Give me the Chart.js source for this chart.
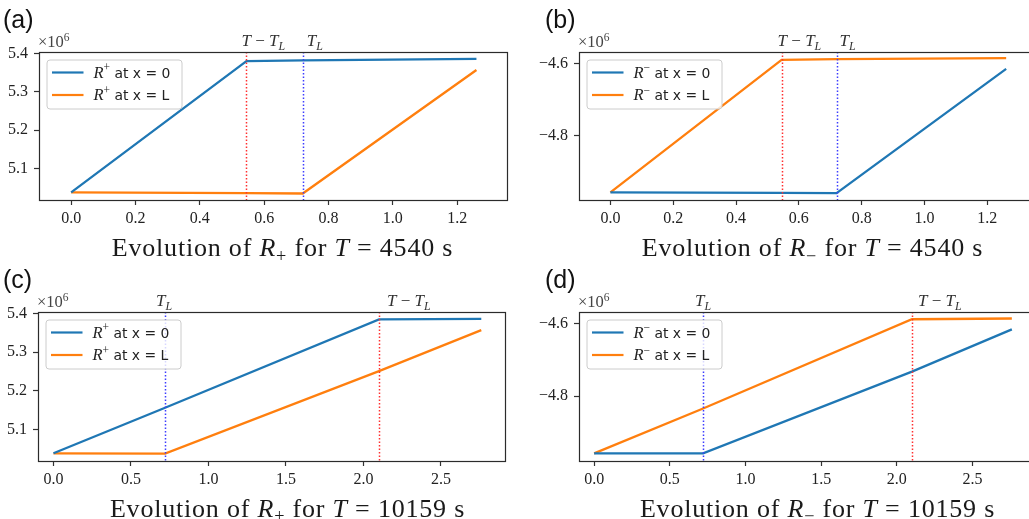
<!DOCTYPE html>
<html>
<head>
<meta charset="utf-8">
<script src="https://cdn.jsdelivr.net/npm/chart.js@4.4.1/dist/chart.umd.min.js"></script>
<style>
	html, body { margin: 0; padding: 0; background: #fff; overflow: hidden; width: 1029px; height: 519px; position: relative; }
	canvas { position: absolute; }
</style>
</head>
<body>
<canvas id="pa" width="520" height="262" style="left:0px;top:0px"></canvas>
<canvas id="pb" width="520" height="262" style="left:520px;top:0px"></canvas>
<canvas id="pc" width="520" height="257" style="left:0px;top:262px"></canvas>
<canvas id="pd" width="520" height="257" style="left:520px;top:262px"></canvas>
<script>
// time (scaled units) of the breakpoints of each run
var timesShort = [0, 0.545, 0.72, 1.26];
var timesLong = [0, 0.72, 2.10, 2.76];

// values are in units of 1e6
var rPlusShort0 = [5.038, 5.380, 5.382, 5.386];
var rPlusShortL = [5.038, 5.036, 5.035, 5.357];
var rMinusShort0 = [-4.958, -4.959, -4.960, -4.614];
var rMinusShortL = [-4.958, -4.589, -4.587, -4.584];
var rPlusLong0 = [5.038, 5.156, 5.385, 5.386];
var rPlusLongL = [5.038, 5.037, 5.251, 5.357];
var rMinusLong0 = [-4.958, -4.958, -4.732, -4.615];
var rMinusLongL = [-4.958, -4.834, -4.587, -4.585];

// vertical markers: T - T_L and T_L
var markersShort = [0.545, 0.72];
var markersLong = [2.10, 0.72];

var xTicksShort = [0, 0.2, 0.4, 0.6, 0.8, 1.0, 1.2];
var xTicksLong = [0, 0.5, 1.0, 1.5, 2.0, 2.5];
var yTicksPlus = [5.1, 5.2, 5.3, 5.4];
var yTicksMinus = [-4.8, -4.6];

var periods = [4540, 10159];
var seriesLabels = ["at x = 0", "at x = L"];

var BLUE = "#1f77b4", ORANGE = "#ff7f0e";
var RED_MARK = "#ff3030", BLUE_MARK = "#3d3dff";
var SERIF = '"Liberation Serif", "Times New Roman", serif';

function fontFor(style, size) {
	switch(style) {
		case "it": return { font: "italic " + size + "px " + SERIF, dy: 0 };
		case "sans": return { font: (size * 0.84).toFixed(1) + 'px "DejaVu Sans"', dy: 0 };
		case "sub": return { font: "italic " + (size * 0.7).toFixed(1) + "px " + SERIF, dy: size * 0.22 };
		case "subrm": return { font: (size * 0.7).toFixed(1) + "px " + SERIF, dy: size * 0.22 };
		case "sup": return { font: (size * 0.7).toFixed(1) + "px " + SERIF, dy: -size * 0.38 };
		default: return { font: size + "px " + SERIF, dy: 0 };
	}
}

function runsWidth(ctx, runs, size) {
	var w = 0;
	runs.forEach(function(r) {
		ctx.font = fontFor(r[1], size).font;
		w += ctx.measureText(r[0]).width;
	});
	return w;
}

function drawRuns(ctx, runs, x, y, size) {
	var cx = x;
	ctx.textBaseline = "alphabetic";
	ctx.textAlign = "left";
	runs.forEach(function(r) {
		var f = fontFor(r[1], size);
		ctx.font = f.font;
		ctx.fillText(r[0], cx, y + f.dy);
		cx += ctx.measureText(r[0]).width;
	});
	return cx - x;
}

var TmTL = [["T", "it"], [" \u2212 ", "rm"], ["T", "it"], ["L", "sub"]];
var TL = [["T", "it"], ["L", "sub"]];

var panels = [
	{ id: "pa", left: 0, top: 0, box: [39, 52, 507, 200], times: timesShort, series: [rPlusShort0, rPlusShortL], sign: "+",
		xRange: [-0.1, 1.355], yRange: [5.018, 5.404], xTicks: xTicksShort, yTicks: yTicksPlus,
		markers: [{ v: markersShort[0], c: RED_MARK, lab: TmTL, dx: -5 }, { v: markersShort[1], c: BLUE_MARK, lab: TL, dx: 4 }],
		letter: "(a)", letterPos: [3, 28], title: [282.5, 256], period: periods[0] },
	{ id: "pb", left: 520, top: 0, box: [579, 52, 1036, 200], times: timesShort, series: [rMinusShort0, rMinusShortL], sign: "\u2212",
		xRange: [-0.1, 1.355], yRange: [-4.979, -4.567], xTicks: xTicksShort, yTicks: yTicksMinus,
		markers: [{ v: markersShort[0], c: RED_MARK, lab: TmTL, dx: -4 }, { v: markersShort[1], c: BLUE_MARK, lab: TL, dx: 3 }],
		letter: "(b)", letterPos: [545, 28], title: [812.5, 256], period: periods[0] },
	{ id: "pc", left: 0, top: 262, box: [38, 312, 505, 461], times: timesLong, series: [rPlusLong0, rPlusLongL], sign: "+",
		xRange: [-0.1, 2.913], yRange: [5.018, 5.404], xTicks: xTicksLong, yTicks: yTicksPlus,
		markers: [{ v: markersLong[0], c: RED_MARK, lab: TmTL, dx: 8 }, { v: markersLong[1], c: BLUE_MARK, lab: TL, dx: -9 }],
		letter: "(c)", letterPos: [3, 288], title: [287.5, 516.5], period: periods[1] },
	{ id: "pd", left: 520, top: 262, box: [579, 312, 1035, 461], times: timesLong, series: [rMinusLong0, rMinusLongL], sign: "\u2212",
		xRange: [-0.1, 2.913], yRange: [-4.979, -4.567], xTicks: xTicksLong, yTicks: yTicksMinus,
		markers: [{ v: markersLong[0], c: RED_MARK, lab: TmTL, dx: 6 }, { v: markersLong[1], c: BLUE_MARK, lab: TL, dx: -8 }],
		letter: "(d)", letterPos: [545, 288], title: [817.5, 516.5], period: periods[1] }
];

var YW = 45, XH = 30;

function fmt(v) {
	var s = Math.abs(v).toFixed(1);
	return v < 0 ? "\u2212" + s : s;
}

// markers, frame, legend, labels and titles
var decor = {
	id: "decor",
	afterDatasetsDraw: function(chart) {
		var p = chart.options.plugins.decor.panel;
		var ctx = chart.ctx, a = chart.chartArea, xs = chart.scales.x;
		ctx.save();

		p.markers.forEach(function(m) {
			var x = Math.round(xs.getPixelForValue(m.v)) + 0.5;
			ctx.strokeStyle = m.c;
			ctx.lineWidth = 1.5;
			ctx.setLineDash([1.5, 2]);
			ctx.beginPath();
			ctx.moveTo(x, a.top);
			ctx.lineTo(x, a.bottom);
			ctx.stroke();
		});
		ctx.setLineDash([]);

		// frame
		ctx.strokeStyle = "#2b2b2b";
		ctx.lineWidth = 1.2;
		ctx.strokeRect(Math.round(a.left) + 0.5, Math.round(a.top) + 0.5, Math.round(a.right - a.left), Math.round(a.bottom - a.top));

		// legend
		var lx = a.left + 7.5, ly = a.top + 7.5;
		ctx.fillStyle = "rgba(255,255,255,0.8)";
		ctx.strokeStyle = "#cccccc";
		ctx.lineWidth = 1;
		ctx.beginPath();
		ctx.roundRect(lx + 0.5, ly + 0.5, 135, 49, 3);
		ctx.fill();
		ctx.stroke();
		chart.data.datasets.forEach(function(ds, i) {
			var ry = ly + 13 + i * 22.5;
			ctx.strokeStyle = ds.borderColor;
			ctx.lineWidth = 2.2;
			ctx.beginPath();
			ctx.moveTo(lx + 5.5, ry);
			ctx.lineTo(lx + 37, ry);
			ctx.stroke();
			ctx.fillStyle = "#222";
			drawRuns(ctx, [["R", "it"], [p.sign, "sup"], [" " + ds.label, "sans"]], lx + 47, ry + 5, 16.5);
		});

		// marker labels above the frame
		ctx.fillStyle = "#333";
		p.markers.forEach(function(m) {
			var x = xs.getPixelForValue(m.v);
			drawRuns(ctx, m.lab, x + m.dx, a.top - 6, 17);
		});

		// offset text
		ctx.fillStyle = "#444";
		drawRuns(ctx, [["\u00d710", "rm"], ["6", "sup"]], a.left - 1, a.top - 5, 16.5);

		// panel letter and title, in page coordinates
		ctx.translate(-p.left, -p.top);
		ctx.fillStyle = "#111";
		ctx.font = '25px "Liberation Sans", Arial, sans-serif';
		ctx.textBaseline = "alphabetic";
		ctx.fillText(p.letter, p.letterPos[0], p.letterPos[1]);

		var runs = [["Evolution of ", "rm"], ["R", "it"], [p.sign === "+" ? "+" : "\u2212", "subrm"], [" for ", "rm"], ["T", "it"], [" = ", "rm"], [p.period + " s", "rm"]];
		ctx.letterSpacing = "0.8px";
		var w = runsWidth(ctx, runs, 26);
		ctx.fillStyle = "#1a1a1a";
		drawRuns(ctx, runs, p.title[0] - w / 2, p.title[1], 26);
		ctx.letterSpacing = "0px";
		ctx.restore();
	}
};

panels.forEach(function(p) {
	var canvas = document.getElementById(p.id);
	var W = canvas.width, H = canvas.height;
	var datasets = p.series.map(function(vals, i) {
		return {
			label: seriesLabels[i],
			data: vals.map(function(v, j) { return { x: p.times[j], y: v }; }),
			borderColor: i === 0 ? BLUE : ORANGE,
			borderWidth: 2.3,
			pointRadius: 0,
			tension: 0,
			fill: false
		};
	});

	new Chart(canvas.getContext("2d"), {
		type: "line",
		data: { datasets: datasets },
		plugins: [decor],
		options: {
			responsive: false,
			animation: false,
			events: [],
			layout: {
				padding: {
					left: p.box[0] - p.left - YW,
					top: p.box[1] - p.top,
					right: p.left + W - p.box[2],
					bottom: p.top + H - p.box[3] - XH
				}
			},
			plugins: {
				legend: { display: false },
				tooltip: { enabled: false },
				decor: { panel: p }
			},
			scales: {
				x: {
					type: "linear",
					min: p.xRange[0],
					max: p.xRange[1],
					afterFit: function(s) { s.height = XH; },
					afterBuildTicks: function(s) { s.ticks = p.xTicks.map(function(v) { return { value: v }; }); },
					border: { display: false },
					grid: { drawOnChartArea: false, color: "#333", tickLength: 5, tickWidth: 1.2 },
					ticks: { color: "#222", padding: 4, maxRotation: 0, font: { family: SERIF, size: 16 }, callback: function(v) { return fmt(v); } }
				},
				y: {
					type: "linear",
					min: p.yRange[0],
					max: p.yRange[1],
					afterFit: function(s) { s.width = YW; },
					afterBuildTicks: function(s) { s.ticks = p.yTicks.map(function(v) { return { value: v }; }); },
					border: { display: false },
					grid: { drawOnChartArea: false, color: "#333", tickLength: 5, tickWidth: 1.2 },
					ticks: { color: "#222", padding: 6, font: { family: SERIF, size: 16 }, callback: function(v) { return fmt(v); } }
				}
			}
		}
	});
});
</script>
</body>
</html>
